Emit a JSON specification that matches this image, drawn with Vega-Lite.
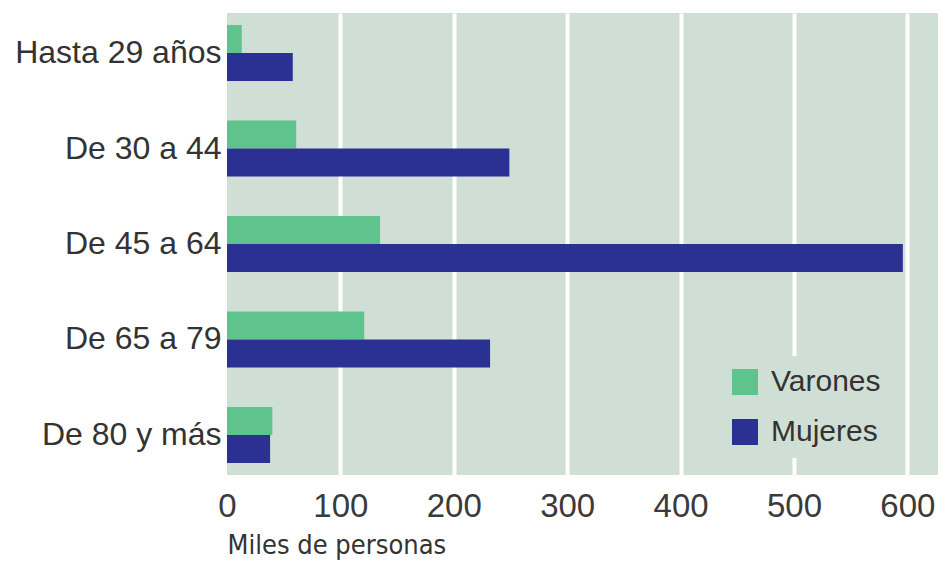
{
  "$schema": "https://vega.github.io/schema/vega-lite/v6.json",
  "width": 711,
  "height": 462,
  "autosize": "none",
  "padding": {"left": 227, "top": 13, "right": 7, "bottom": 96},
  "background": "white",
  "data": {
    "values": [
      {"edad": "Hasta 29 años", "sexo": "Varones", "valor": 13},
      {"edad": "Hasta 29 años", "sexo": "Mujeres", "valor": 58},
      {"edad": "De 30 a 44", "sexo": "Varones", "valor": 61},
      {"edad": "De 30 a 44", "sexo": "Mujeres", "valor": 249},
      {"edad": "De 45 a 64", "sexo": "Varones", "valor": 135},
      {"edad": "De 45 a 64", "sexo": "Mujeres", "valor": 596},
      {"edad": "De 65 a 79", "sexo": "Varones", "valor": 121},
      {"edad": "De 65 a 79", "sexo": "Mujeres", "valor": 232},
      {"edad": "De 80 y más", "sexo": "Varones", "valor": 40},
      {"edad": "De 80 y más", "sexo": "Mujeres", "valor": 38}
    ]
  },
  "mark": {"type": "bar"},
  "encoding": {
    "y": {
      "field": "edad",
      "type": "nominal",
      "sort": ["Hasta 29 años", "De 30 a 44", "De 45 a 64", "De 65 a 79", "De 80 y más"],
      "scale": {"paddingInner": 0.4136, "paddingOuter": 0.126},
      "axis": {
        "title": null,
        "domain": false,
        "ticks": false,
        "grid": false,
        "labelFont": "Liberation Sans",
        "labelFontSize": 32,
        "labelColor": "#333333",
        "labelPadding": 6,
        "labelLimit": 300
      }
    },
    "yOffset": {
      "field": "sexo",
      "type": "nominal",
      "sort": ["Varones", "Mujeres"],
      "scale": {"paddingInner": 0, "paddingOuter": 0}
    },
    "x": {
      "field": "valor",
      "type": "quantitative",
      "scale": {"domain": [0, 627], "nice": false, "zero": true},
      "axis": {
        "values": [0, 100, 200, 300, 400, 500, 600],
        "domain": false,
        "ticks": false,
        "grid": true,
        "gridColor": "white",
        "gridWidth": 4,
        "gridOpacity": {"condition": {"test": "datum.value === 0", "value": 0}, "value": 1},
        "labelFont": "Liberation Sans",
        "labelFontSize": 33,
        "labelColor": "#3a3a3a",
        "labelPadding": 15,
        "labelFlush": false,
        "title": "Miles de personas",
        "titleFont": "'DejaVu Sans Condensed', 'Liberation Sans', sans-serif",
        "titleFontSize": 27,
        "titleFontWeight": "normal",
        "titleColor": "#333333",
        "titleX": 0,
        "titleY": 78,
        "titleAlign": "left",
        "titleAnchor": "start",
        "titleBaseline": "alphabetic"
      }
    },
    "color": {
      "field": "sexo",
      "type": "nominal",
      "sort": ["Varones", "Mujeres"],
      "scale": {"domain": ["Varones", "Mujeres"], "range": ["#5ec38c", "#2b3193"]},
      "legend": {
        "title": null,
        "orient": "none",
        "legendX": 492,
        "legendY": 343,
        "symbolType": "square",
        "symbolSize": 676,
        "symbolStrokeWidth": 0,
        "symbolOpacity": 1,
        "labelFont": "Liberation Sans",
        "labelFontSize": 30,
        "labelColor": "#333333",
        "labelOffset": 11,
        "rowPadding": 20,
        "padding": 11,
        "fillColor": "#d0dfd5",
        "strokeColor": null
      }
    }
  },
  "config": {
    "view": {"fill": "#d0dfd5", "stroke": null}
  }
}
